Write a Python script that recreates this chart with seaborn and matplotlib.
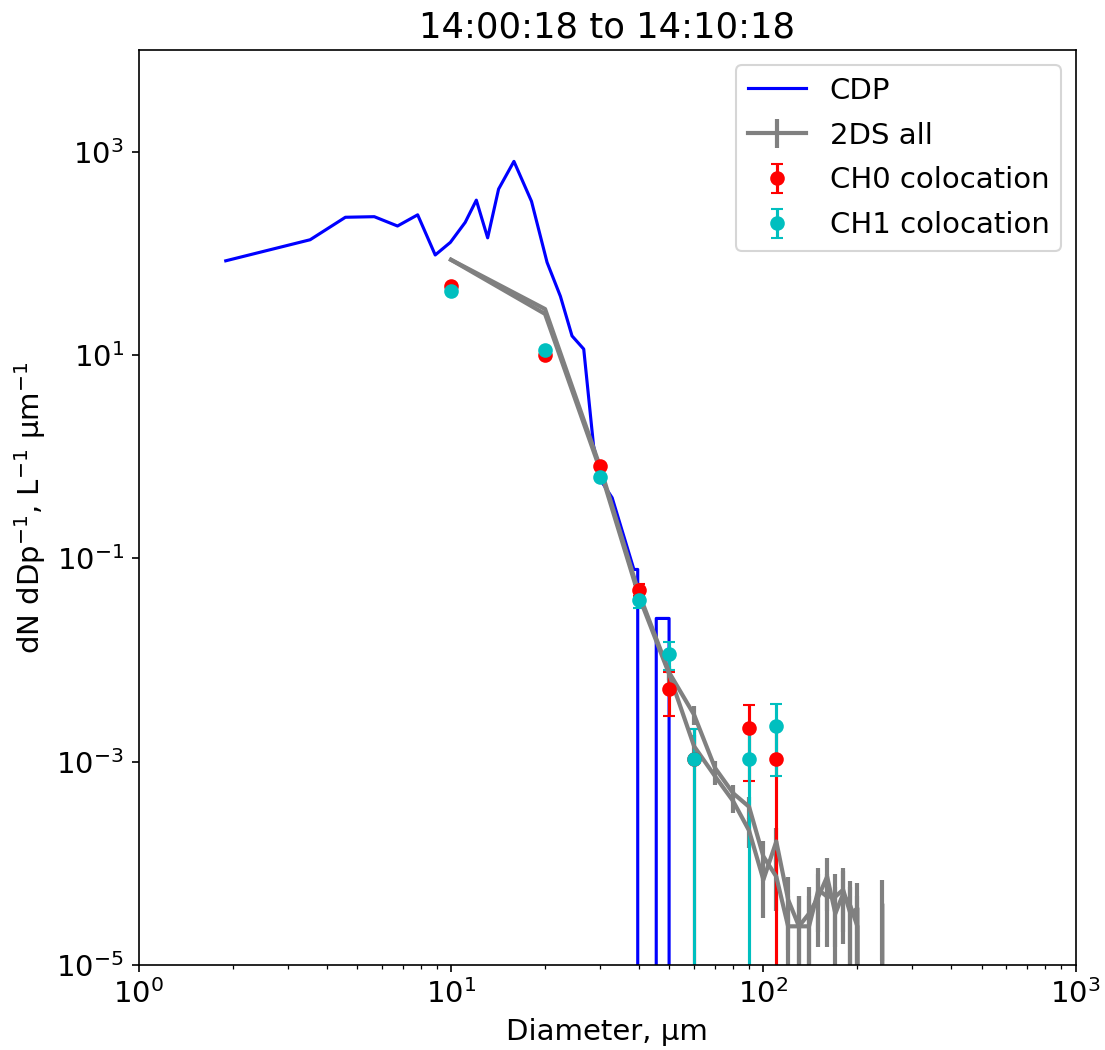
import numpy as np
import pandas as pd
import matplotlib
matplotlib.use("Agg")
import matplotlib.pyplot as plt
import seaborn as sns

# ---------------- data ----------------
title = "14:00:18 to 14:10:18"

cdp_d = [1.9, 3.54, 4.59, 5.68, 6.74, 7.82, 8.9, 9.95, 11.1, 12.05, 13.1, 14.2,
         15.9, 18.1, 20.3, 22.4, 24.4, 26.6, 28.6, 30.5, 32.8, 38.5, 39.6,
         42.0, 44.0, 45.4, 49.9, 52.0]
cdp_n = [85, 137, 228, 231, 187, 241, 97, 129, 203, 336, 143, 432,
         809, 327, 82, 38, 15.5, 11.5, 1.28, 0.557, 0.396, 0.078, 0.078,
         0.0, 0.0, 0.0257, 0.0257, 0.0]

tds_d = [10, 20, 30, 40, 50, 60, 70, 80, 90, 100, 110, 120, 130, 140, 150,
         160, 170, 180, 190, 200, 210, 220, 230, 240, 250]
tds_a = [87, 28.5, 0.8, 0.045, 0.0075, 0.0029, 0.00087, 0.00049, 0.00036,
         0.000117, 7.4e-5, 2.4e-5, 2.4e-5, 2.4e-5, 5.5e-5, 4.7e-5, 4.7e-5,
         5.5e-5, 3.2e-5, 3.6e-5, 0, 0, 0, 0, 0]
tds_a_err = [0.2, 0.1, 0.02, 0.004, 0.0012, 0.0006, 0.00015, 0.0001, 0.00009,
             0.00005, 0.00004, 2.4e-5, 2.4e-5, 2.4e-5, 3.4e-5, 3.2e-5, 3.2e-5,
             3.4e-5, 2.6e-5, 2.8e-5, 0, 0, 0, 0, 0]
tds_b = [87, 25.5, 0.75, 0.042, 0.0072, 0.00142, 0.00072, 0.00041, 0.00021,
         6.9e-5, 0.000164, 4.4e-5, 2.4e-5, 3.2e-5, 4.7e-5, 7.4e-5, 3.2e-5,
         5.0e-5, 3.8e-5, 2.4e-5, 0, 0, 0, 4.0e-5, 0]
tds_b_err = [0.2, 0.1, 0.02, 0.004, 0.0012, 0.0004, 0.00013, 0.0001, 0.00007,
             0.00004, 0.00006, 3.0e-5, 2.4e-5, 2.6e-5, 3.2e-5, 4.0e-5, 2.6e-5,
             3.4e-5, 2.9e-5, 2.4e-5, 0, 0, 0, 2.9e-5, 0]

col_d = [10, 20, 30, 40, 50, 60, 90, 110]
ch0_n = [47.9, 10.1, 0.81, 0.0495, 0.00524, 0.00106, 0.00215, 0.00106]
ch0_err = [0.23, 0.10, 0.03, 0.0072, 0.0024, 0.00106, 0.0015, 0.00106]
ch1_n = [42.8, 11.3, 0.63, 0.0394, 0.0115, 0.00106, 0.00106, 0.00223]
ch1_err = [0.21, 0.11, 0.026, 0.0065, 0.0035, 0.00106, 0.00106, 0.0015]

# ---------------- plot ----------------
plt.rcParams['font.size'] = 14
fig = plt.figure(figsize=(1105 / 150, 1050 / 150), dpi=150)
ax = fig.add_axes([0.1255, 0.081, 0.848, 0.871])
ax.set_xscale('log')
ax.set_yscale('log')

cdp_df = pd.DataFrame({'d': cdp_d, 'n': cdp_n})
sns.lineplot(data=cdp_df, x='d', y='n', ax=ax, color='b', lw=1.5,
             estimator=None, sort=False, label='CDP')
cdp_line = ax.lines[-1]

eb_a = ax.errorbar(tds_d, tds_a, yerr=tds_a_err, color='gray', lw=2,
                   elinewidth=2, label='2DS all')
ax.errorbar(tds_d, tds_b, yerr=tds_b_err, color='gray', lw=2, elinewidth=2)

eb0 = ax.errorbar(col_d, ch0_n, yerr=ch0_err, fmt='o', color='r', capsize=3,
                  ms=6, elinewidth=1.5, label='CH0 colocation')
eb1 = ax.errorbar(col_d, ch1_n, yerr=ch1_err, fmt='o', color='c', capsize=3,
                  ms=6, elinewidth=1.5, label='CH1 colocation')

ax.set_xlim(1, 1000)
ax.set_ylim(1e-5, 1e4)
ax.set_title(title, fontsize=17)
ax.set_xlabel('Diameter, µm')
ax.set_ylabel('dN dDp$^{-1}$, L$^{-1}$ µm$^{-1}$')
ax.legend(handles=[cdp_line, eb_a, eb0, eb1],
          labels=['CDP', '2DS all', 'CH0 colocation', 'CH1 colocation'],
          loc='upper right', labelspacing=0.58)

fig.savefig('out.png', dpi=150)
